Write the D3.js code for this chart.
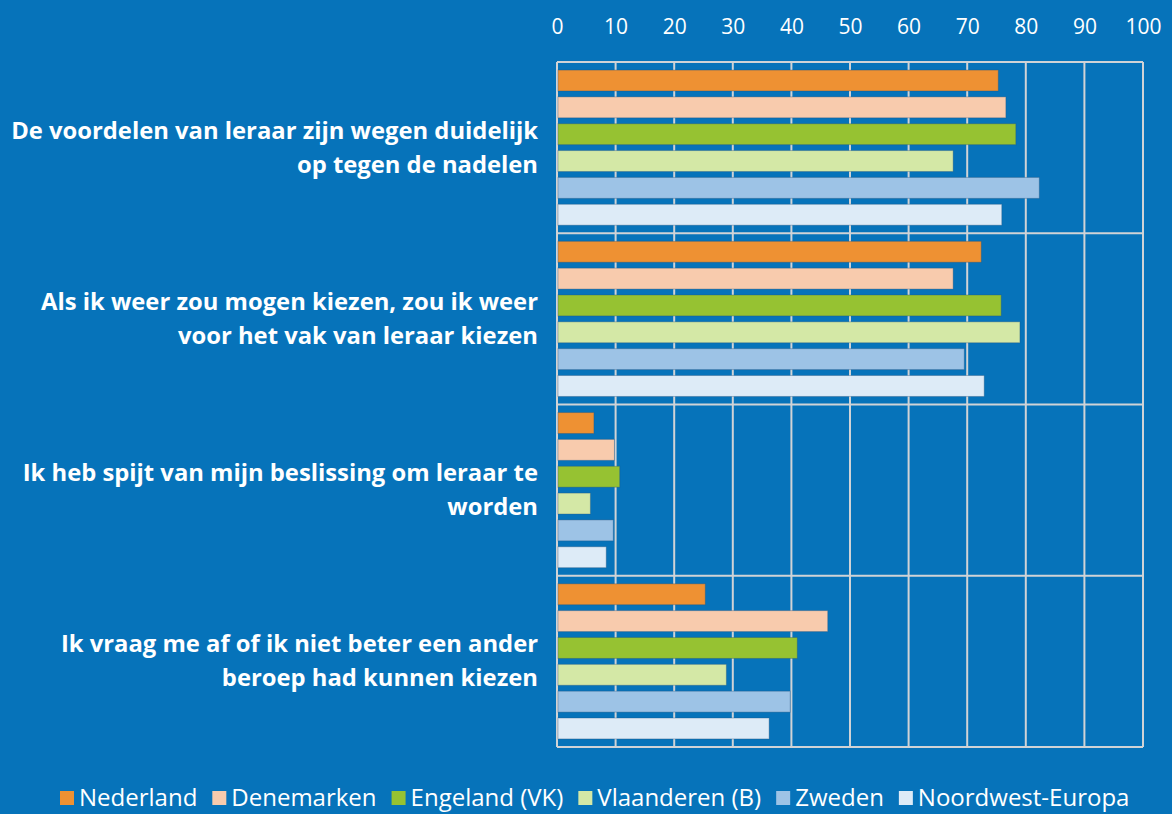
<!DOCTYPE html>
<html>
<head>
<meta charset="utf-8">
<script src="https://cdn.jsdelivr.net/npm/d3@7"></script>
<style>
  body { margin: 0; background: #0673ba; }
  svg { display: block; font-family: "Open Sans", sans-serif; }
</style>
</head>
<body>
<div id="chart"></div>
<script>
// statements (one group of bars each)
const statements = [
    ["De voordelen van leraar zijn wegen duidelijk", "op tegen de nadelen"],
    ["Als ik weer zou mogen kiezen, zou ik weer", "voor het vak van leraar kiezen"],
    ["Ik heb spijt van mijn beslissing om leraar te", "worden"],
    ["Ik vraag me af of ik niet beter een ander", "beroep had kunnen kiezen"]
];
const countries = ["Nederland", "Denemarken", "Engeland (VK)", "Vlaanderen (B)", "Zweden", "Noordwest-Europa"];
const colors = ["#ee9133", "#f8cbad", "#96c232", "#d4e8a6", "#9dc3e6", "#ddebf7"];

// percentage per country, in statement order
const nederland = [75.3, 72.4, 6.3, 25.3];
const denemarken = [76.6, 67.6, 9.8, 46.2];
const engeland = [78.3, 75.8, 10.7, 41.0];
const vlaanderen = [67.6, 79.0, 5.7, 28.9];
const zweden = [82.3, 69.5, 9.6, 39.8];
const noordwest = [75.9, 72.9, 8.4, 36.2];
const series = [nederland, denemarken, engeland, vlaanderen, zweden, noordwest];

const ticks = [0, 10, 20, 30, 40, 50, 60, 70, 80, 90, 100];

const w = 1172, h = 814;
const svg = d3.select("#chart").append("svg").attr("width", w).attr("height", h);
svg.append("rect").attr("width", w).attr("height", h).attr("fill", "#0673ba");

const x = d3.scaleLinear().domain([0, 100]).range([557, 1143]);
const y = d3.scaleBand().domain(d3.range(statements.length)).range([62, 747]);
const yInner = d3.scaleBand().domain(d3.range(countries.length))
    .range([0, y.bandwidth()]).paddingInner(0.22).paddingOuter(0.3);

const grid = "#d0d3d6";

// vertical grid lines
svg.append("g").selectAll("line").data(ticks).join("line")
    .attr("x1", d => x(d)).attr("x2", d => x(d))
    .attr("y1", y.range()[0]).attr("y2", y.range()[1])
    .attr("stroke", grid).attr("stroke-width", 2);

// horizontal lines at group edges
const edges = d3.range(statements.length + 1).map(i => y.range()[0] + i * y.step());
svg.append("g").selectAll("line").data(edges).join("line")
    .attr("x1", x(0)).attr("x2", x(100))
    .attr("y1", d => d).attr("y2", d => d)
    .attr("stroke", grid).attr("stroke-width", 2);

// bars
statements.forEach((s, gi) => {
    svg.append("g").selectAll("rect").data(series).join("rect")
        .attr("x", x(0) + 1)
        .attr("y", (d, ci) => y(gi) + yInner(ci))
        .attr("width", d => x(d[gi]) - x(0) - 1)
        .attr("height", yInner.bandwidth())
        .attr("fill", (d, ci) => colors[ci])
        .attr("stroke", "rgba(40,80,120,0.35)")
        .attr("stroke-width", 1);
});

// top axis
const xAxis = d3.axisTop(x).tickValues(ticks).tickSize(0).tickPadding(0);
const ax = svg.append("g").attr("transform", "translate(0,34)").call(xAxis);
ax.select(".domain").remove();
ax.selectAll("text").attr("fill", "#fff").style("font-size", "21px")
    .style("font-family", "'Open Sans', sans-serif");

// category labels
statements.forEach((lines, gi) => {
    const cy = y(gi) + y.bandwidth() / 2;
    const t = svg.append("text").attr("text-anchor", "end")
        .attr("fill", "#fff").style("font-weight", "bold").style("font-size", "23.8px");
    lines.forEach((l, li) => {
        t.append("tspan").attr("x", 538)
            .attr("y", cy + (li - (lines.length - 1) / 2) * 34 + 8)
            .text(l);
    });
});

// legend
const leg = svg.append("g");
let lx = 60;
countries.forEach((c, i) => {
    leg.append("rect").attr("x", lx).attr("y", 791).attr("width", 14).attr("height", 14)
        .attr("fill", colors[i]);
    const t = leg.append("text").attr("x", lx + 19).attr("y", 806)
        .attr("fill", "#fff").style("font-size", "24px").text(c);
    lx += 19 + t.node().getComputedTextLength() + 15;
});
</script>
</body>
</html>
